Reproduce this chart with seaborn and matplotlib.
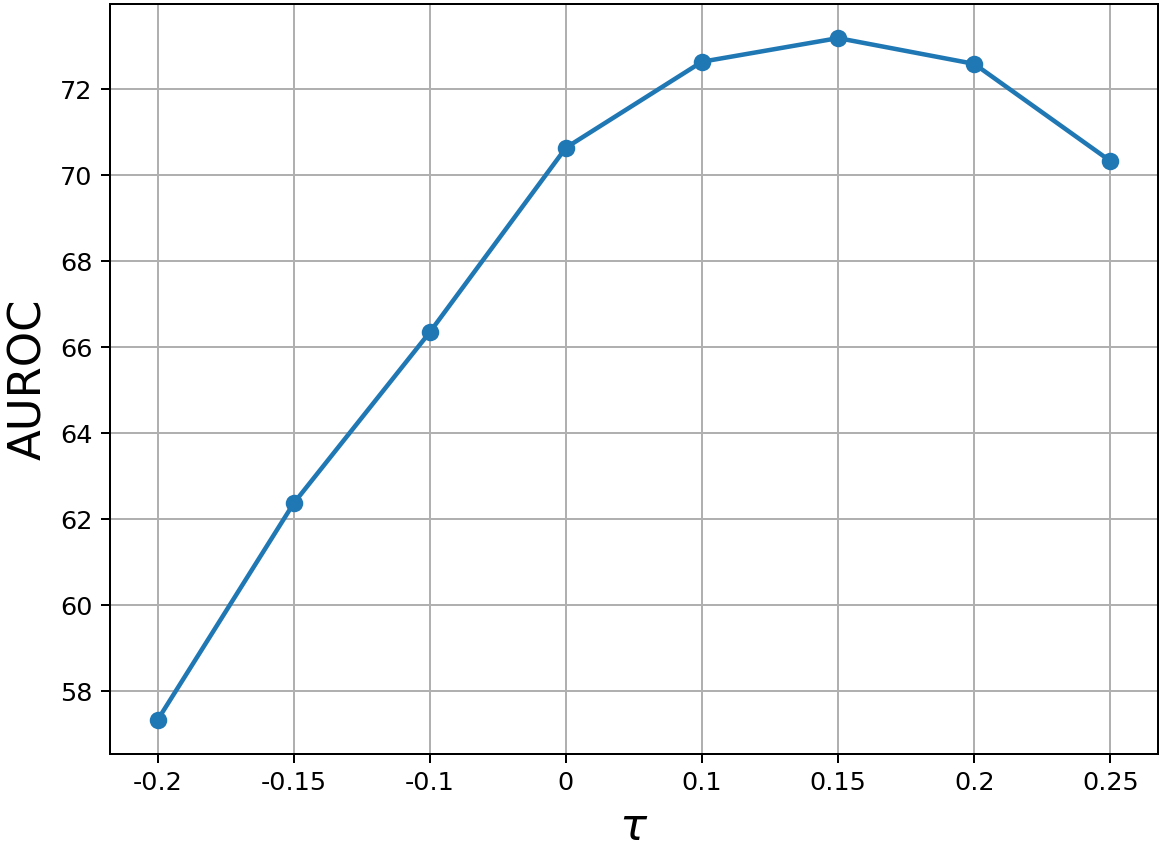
import matplotlib
matplotlib.use("Agg")
import matplotlib.pyplot as plt
import seaborn as sns
import pandas as pd

tau_labels = ["-0.2", "-0.15", "-0.1", "0", "0.1", "0.15", "0.2", "0.25"]
auroc = [57.33, 62.37, 66.35, 70.64, 72.64, 73.19, 72.59, 70.33]

df = pd.DataFrame({"pos": list(range(len(tau_labels))), "AUROC": auroc})

sns.set_style("ticks")
plt.rcParams['font.family'] = ['DejaVu Sans']

fig = plt.figure(figsize=(1162/180, 848/180), dpi=180)
ax = fig.add_axes([110/1162, 1-754/848, (1158-110)/1162, (754-4)/848])
sns.lineplot(data=df, x="pos", y="AUROC", marker="o", markersize=7,
             markeredgewidth=0, color="#1f77b4", linewidth=1.8, ax=ax)
ax.set_xticks(df["pos"])
ax.set_xticklabels(tau_labels)
ax.margins(x=0.05, y=0.05)
ax.set_yticks([58, 60, 62, 64, 66, 68, 70, 72])
ax.tick_params(axis="both", labelsize=10.2, direction="out", length=3.5, width=0.8,
               colors="black", labelcolor="black")
ax.grid(True, color="#b0b0b0", linewidth=0.8)
ax.set_axisbelow(True)
for s in ax.spines.values():
    s.set_visible(True)
    s.set_color("black")
    s.set_linewidth(0.8)
ax.set_xlabel(r"$\tau$", fontsize=18, color="black")
ax.set_ylabel("AUROC", fontsize=18, color="black")
fig.savefig("out.png", dpi=180)
